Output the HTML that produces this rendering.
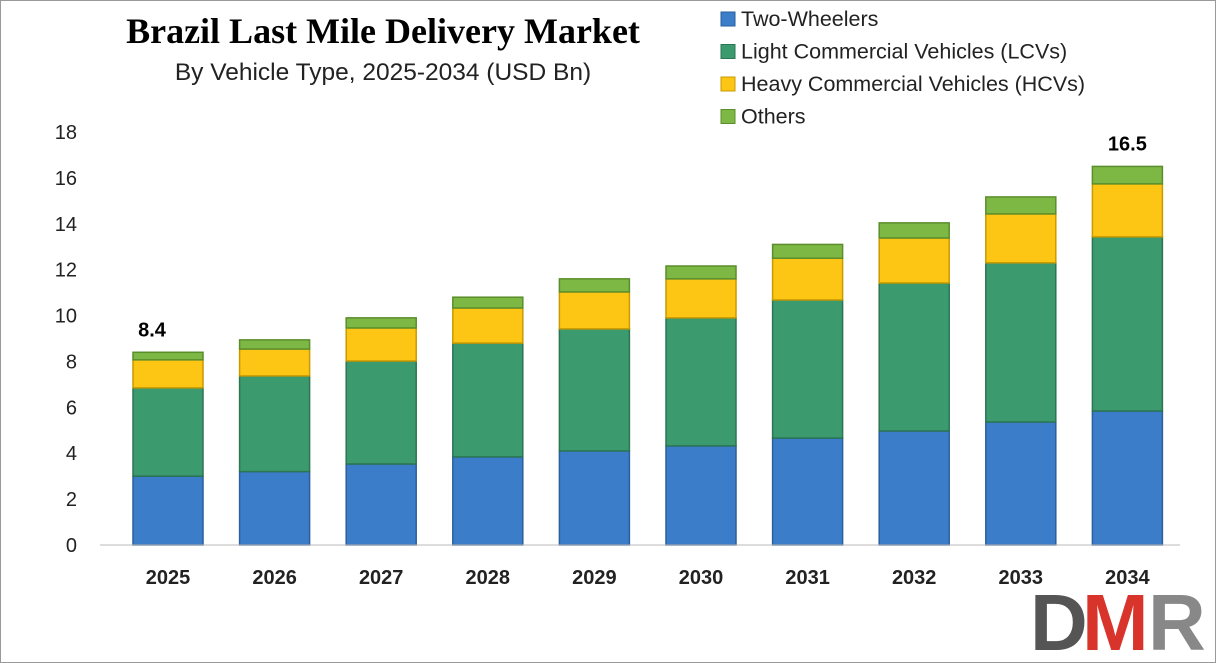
<!DOCTYPE html>
<html><head><meta charset="utf-8"><style>
body{margin:0;background:#fff;}
svg{display:block;font-family:"Liberation Sans",sans-serif;}
</style></head><body>
<svg width="1216" height="663" viewBox="0 0 1216 663">
<rect x="0.5" y="0.5" width="1215" height="662" fill="#fff" stroke="#999"/>
<text x="383" y="43" text-anchor="middle" font-family="Liberation Serif" font-weight="bold" font-size="36">Brazil Last Mile Delivery Market</text>
<text x="383" y="80" text-anchor="middle" font-size="24.5" fill="#222">By Vehicle Type, 2025-2034 (USD Bn)</text>
<g id="legend"></g>
<g id="yaxis"></g>
<g id="bars"></g>
<line x1="100" y1="545" x2="1180" y2="545" stroke="#bbb"/>
<g id="xaxis"></g>
<g>
<text x="1030" y="650" font-size="80" font-weight="bold" fill="#555">D</text>
<text x="1082" y="650" font-size="80" font-weight="bold" fill="#d9342b">M</text>
<text x="1148" y="650" font-size="80" font-weight="bold" fill="#888">R</text>
</g>
</svg>
<script>
const categories=["2025","2026","2027","2028","2029","2030","2031","2032","2033","2034"];
const twoWheelers=[3.0,3.2,3.53,3.84,4.1,4.32,4.66,4.97,5.36,5.84];
const lcvs=[3.85,4.17,4.49,4.96,5.32,5.58,6.02,6.45,6.94,7.59];
const hcvs=[1.22,1.17,1.44,1.53,1.61,1.7,1.82,1.96,2.13,2.31];
const others=[0.33,0.4,0.44,0.47,0.57,0.56,0.6,0.66,0.74,0.76];
const totalLabels={0:"8.4",9:"16.5"};
const yTicks=[0,2,4,6,8,10,12,14,16,18];
const seriesNames=["Two-Wheelers","Light Commercial Vehicles (LCVs)","Heavy Commercial Vehicles (HCVs)","Others"];
const colors=["#3b7dc9","#3c9a6f","#fdc614","#7db844"];
const strokes=["#2a5f9e","#2b7552","#c99a00","#5a8e2c"];
const NS="http://www.w3.org/2000/svg";
const y0=545,pxPer=(545-132)/18,x0=168,step=106.6,bw=70;
const y=v=>y0-v*pxPer, x=i=>x0+i*step;
function mk(t,a,p){const e=document.createElementNS(NS,t);for(const k in a)e.setAttribute(k,a[k]);p.appendChild(e);return e;}
const ya=document.getElementById('yaxis');
yTicks.forEach(t=>{const e=mk('text',{x:77,y:y(t)+7,'text-anchor':'end','font-size':20,fill:'#222'},ya);e.textContent=t;

});
const xa=document.getElementById('xaxis');
categories.forEach((c,i)=>{const e=mk('text',{x:x(i),y:584,'text-anchor':'middle','font-size':20,'font-weight':'bold',fill:'#222'},xa);e.textContent=c;

});
const bg=document.getElementById('bars');
const series=[twoWheelers,lcvs,hcvs,others];
categories.forEach((c,i)=>{let base=0;
series.forEach((s,k)=>{const v=s[i];const r=mk('rect',{x:x(i)-bw/2,y:y(base+v),width:bw,height:v*pxPer,fill:colors[k],stroke:strokes[k],'stroke-width':1.5},bg);


base+=v;});
if(totalLabels[i]){const t=mk('text',{x:x(i)-(i==0?16:0),y:y(base)-16,'text-anchor':'middle','font-size':20,'font-weight':'bold'},bg);t.textContent=totalLabels[i];

}
});
const lg=document.getElementById('legend');
seriesNames.forEach((n,k)=>{const ly=19+k*32.5;
const r=mk('rect',{x:721,y:ly-7,width:14,height:14,fill:colors[k],stroke:strokes[k]},lg);


const t=mk('text',{x:741,y:ly+7,'font-size':21.5,fill:'#222'},lg);t.textContent=n;

});
</script>
</body></html>
